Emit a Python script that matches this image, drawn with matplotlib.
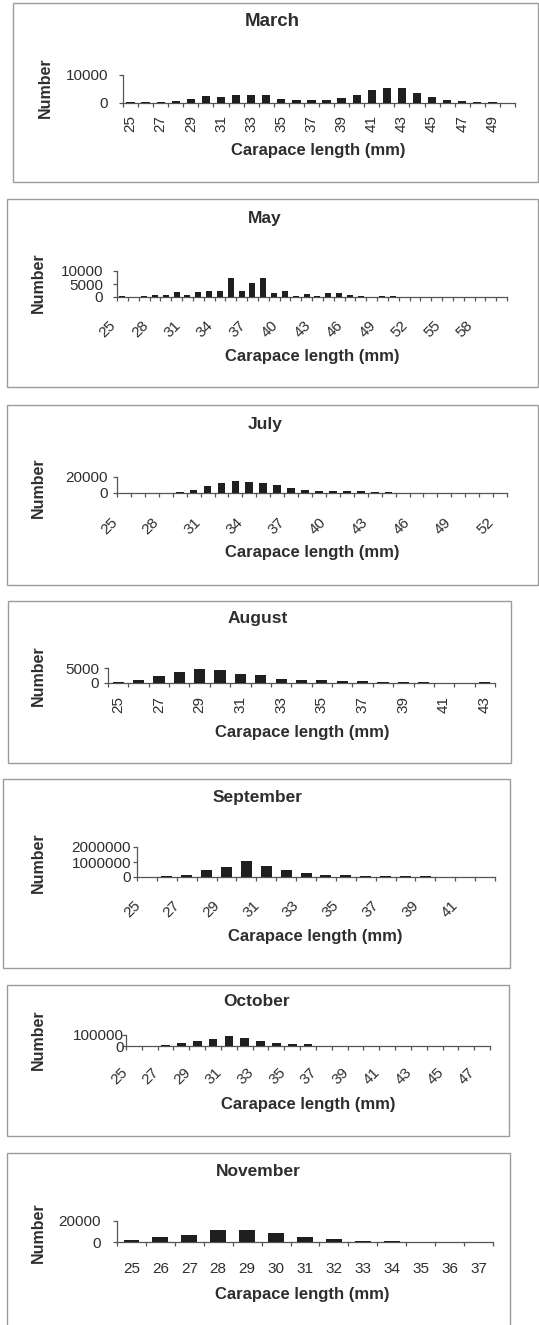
import matplotlib
matplotlib.use("Agg")
import matplotlib.pyplot as plt
from matplotlib.patches import Rectangle
from matplotlib.transforms import ScaledTranslation

# ---------------- data ----------------
months = ["March", "May", "July", "August", "September", "October", "November"]

march_lengths = list(range(25, 51))
march_counts = [300, 250, 400, 800, 1600, 2500, 2300, 2700, 3000, 2700, 1500, 1000, 900,
                1000, 1700, 2900, 4500, 5500, 5500, 3700, 2300, 1100, 700, 500, 400, 0]

may_lengths = list(range(25, 61))
may_counts = [400, 0, 500, 700, 700, 1800, 600, 2000, 2500, 2500, 7500, 2500, 5300, 7300,
              1500, 2500, 500, 1100, 500, 1500, 1500, 600, 400, 0, 400, 400,
              0, 0, 0, 0, 0, 0, 0, 0, 0, 0]

july_lengths = list(range(25, 53))
july_counts = [0, 0, 0, 0, 1000, 3600, 8800, 12000, 14800, 13600, 12000, 9600, 6800, 4000,
               2800, 2400, 2800, 2400, 1600, 1200, 0, 0, 0, 0, 0, 0, 0, 0]

august_lengths = list(range(25, 44))
august_counts = [500, 1000, 2300, 3700, 4700, 4300, 3000, 2600, 1500, 1000, 1000, 700, 700,
                 500, 400, 300, 0, 0, 300]

september_lengths = list(range(25, 43))
september_counts = [0, 60000, 130000, 450000, 640000, 1090000, 750000, 450000, 300000,
                    160000, 130000, 90000, 90000, 80000, 80000, 0, 0, 0]

october_lengths = list(range(25, 48))
october_counts = [0, 0, 12000, 24000, 45000, 66000, 90000, 69000, 45000, 30000, 18000, 15000,
                  0, 0, 0, 0, 0, 0, 0, 0, 0, 0, 0]

november_lengths = list(range(25, 38))
november_counts = [2000, 4300, 7000, 11700, 11700, 9000, 5200, 2500, 1200, 1200, 0, 0, 0]

yticks_march = [0, 10000]
yticks_may = [0, 5000, 10000]
yticks_july = [0, 20000]
yticks_august = [0, 5000]
yticks_september = [0, 1000000, 2000000]
yticks_october = [0, 100000]
yticks_november = [0, 20000]

label_steps = [2, 3, 3, 2, 2, 2, 1]

# ---------------- layout (pixels) ----------------
W, H, DPI = 539, 1325, 100
TXT = "#2e2e2e"
BAR = "#1f1f1f"
AX = "#555555"

layout = [
    dict(ax=123, ar=515, y0=103, yt=75, title=(272, 22), tfs=13.5, yl=(45, 88), xl=(318, 151),
         box=(13, 3, 538, 182), ytr=108, xtt=115, rot=90),
    dict(ax=117, ar=507, y0=297, yt=271, title=(265, 218), tfs=12.5, yl=(38, 283), xl=(312, 357),
         box=(7, 199, 538, 387), ytr=103, xtt=318, rot=45),
    dict(ax=117, ar=507, y0=493, yt=477, title=(265, 425), tfs=12.5, yl=(38, 488), xl=(312, 553),
         box=(7, 405, 538, 585), ytr=108, xtt=515, rot=45),
    dict(ax=108, ar=495, y0=683, yt=668, title=(258, 619), tfs=12.5, yl=(38, 676), xl=(302, 732),
         box=(8, 601, 511, 763), ytr=99, xtt=696, rot=90),
    dict(ax=137, ar=495, y0=877, yt=847, title=(258, 797), tfs=12.5, yl=(38, 863), xl=(315, 936),
         box=(3, 779, 510, 968), ytr=131, xtt=898, rot=45),
    dict(ax=126, ar=490, y0=1046, yt=1035, title=(257, 1002), tfs=12.5, yl=(38, 1040), xl=(308, 1105),
         box=(7, 985, 509, 1136), ytr=124, xtt=1065, rot=45),
    dict(ax=117, ar=493, y0=1242, yt=1221, title=(258, 1172), tfs=12.5, yl=(38, 1233), xl=(302, 1295),
         box=(7, 1153, 510, 1340), ytr=101, xtt=1262, rot=0),
]

series = [
    (march_lengths, march_counts, yticks_march),
    (may_lengths, may_counts, yticks_may),
    (july_lengths, july_counts, yticks_july),
    (august_lengths, august_counts, yticks_august),
    (september_lengths, september_counts, yticks_september),
    (october_lengths, october_counts, yticks_october),
    (november_lengths, november_counts, yticks_november),
]

plt.rcParams["font.family"] = ["Liberation Sans", "DejaVu Sans"]

fig = plt.figure(figsize=(W / DPI, H / DPI), dpi=DPI)
fig.patch.set_facecolor("white")

TICK_PX = 4.0
PT = 72.0 / DPI


def fx(px):
    return px / W


def fy(py):
    return 1 - py / H


for month, (lengths, counts, yticks), L, step in zip(months, series, layout, label_steps):
    l, t, r, b = L["box"]
    fig.patches.append(Rectangle((fx(l), fy(b)), fx(r) - fx(l), fy(t) - fy(b),
                                 transform=fig.transFigure, fill=False,
                                 edgecolor="#9c9c9c", linewidth=1.0, zorder=0))

    ax = fig.add_axes([fx(L["ax"]), fy(L["y0"]), fx(L["ar"] - L["ax"]),
                       (L["y0"] - L["yt"]) / H])
    n = len(lengths)
    idx = list(range(n))
    ax.bar(idx, counts, width=0.55, color=BAR, linewidth=0, zorder=3)
    ax.set_xlim(-0.5, n - 0.5)
    ax.set_ylim(0, yticks[-1])
    ax.patch.set_alpha(0)
    for s in ("top", "right"):
        ax.spines[s].set_visible(False)
    for s in ("left", "bottom"):
        ax.spines[s].set_color(AX)
        ax.spines[s].set_linewidth(0.9)

    ypad = (L["ax"] - TICK_PX - L["ytr"]) * PT
    ax.set_yticks(yticks)
    ax.set_yticklabels([str(v) for v in yticks])
    ax.tick_params(axis="y", length=TICK_PX * PT, width=0.9, color=AX, pad=ypad,
                   labelsize=11, labelcolor=TXT)

    ax.set_xticks([i - 0.5 for i in range(n + 1)], minor=True)
    lab_idx = [i for i in idx if i % step == 0]
    ax.set_xticks(lab_idx)
    xpad = (L["xtt"] - L["y0"] - TICK_PX) * PT
    rot = L["rot"]
    if rot == 45:
        ax.set_xticklabels([str(lengths[i]) for i in lab_idx], rotation=45, ha="right")
    elif rot == 90:
        ax.set_xticklabels([str(lengths[i]) for i in lab_idx], rotation=90)
    else:
        ax.set_xticklabels([str(lengths[i]) for i in lab_idx])
    ax.tick_params(axis="x", which="major", length=0, pad=xpad + TICK_PX * PT,
                   labelsize=11, labelcolor=TXT)
    ax.tick_params(axis="x", which="minor", length=TICK_PX * PT, width=0.9, color=AX)
    if rot == 45:
        off = ScaledTranslation(-4 / DPI, 0, fig.dpi_scale_trans)
        for lab in ax.get_xticklabels():
            lab.set_transform(lab.get_transform() + off)

    fig.text(fx(L["title"][0]), fy(L["title"][1]), month, ha="center", va="center",
             fontsize=L["tfs"], fontweight="bold", color=TXT)
    fig.text(fx(L["yl"][0]), fy(L["yl"][1]), "Number", ha="center", va="center",
             rotation=90, fontsize=11.5, fontweight="bold", color=TXT)
    fig.text(fx(L["xl"][0]), fy(L["xl"][1]), "Carapace length (mm)", ha="center",
             va="center", fontsize=12, fontweight="bold", color=TXT)

fig.savefig("out.png", dpi=DPI, facecolor="white")
